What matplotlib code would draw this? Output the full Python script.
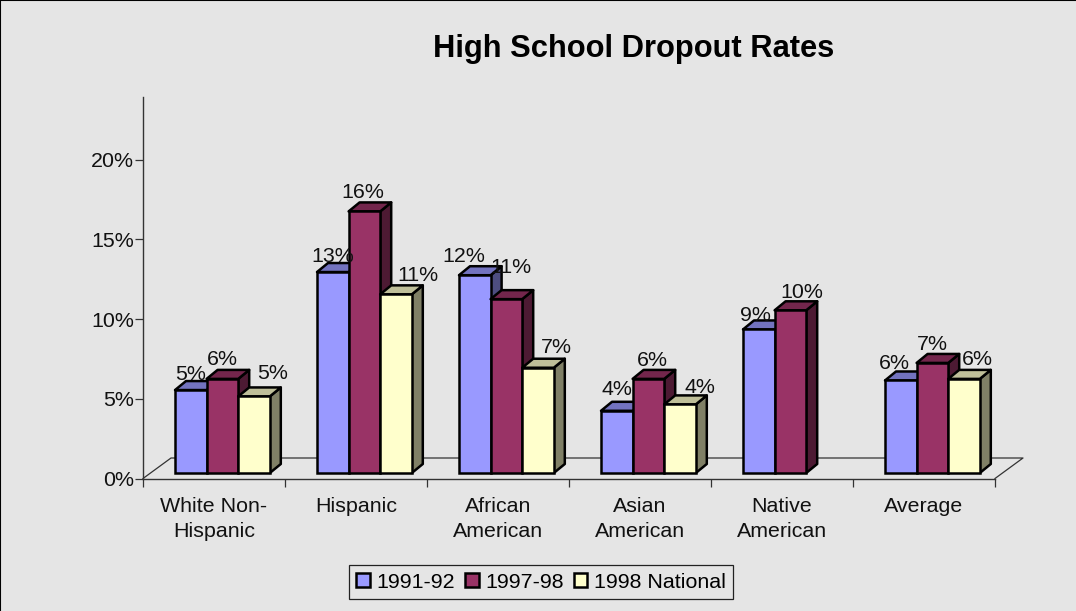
import matplotlib
matplotlib.use('Agg')
import matplotlib.pyplot as plt
from matplotlib.patches import Polygon, Patch
from matplotlib.lines import Line2D

plt.rcParams['font.family'] = ['Liberation Sans', 'DejaVu Sans']

# Dados
categorias = ['White Non-\nHispanic', 'Hispanic', 'African\nAmerican',
              'Asian\nAmerican', 'Native\nAmerican', 'Average']
series = ['1991-92', '1997-98', '1998 National']
v_1991 = [5.2, 12.6, 12.4, 3.9, 9.0, 5.8]
v_1997 = [5.9, 16.4, 10.9, 5.9, 10.2, 6.9]
v_1998 = [4.8, 11.2, 6.6, 4.3, None, 5.9]
yticks = [0, 5, 10, 15, 20]

# deslocamento dos rotulos em pixels (como no original, ajustados a mao)
desloc_1991 = [0, 0, -11, 0, -3, -6]
desloc_1997 = [0, -2, 5, 4, 11, 0]
desloc_1998 = [19, 22, 18, 20, 0, 13]
altura_1991 = [16, 16, 19, 21, 14, 17]
altura_1997 = [19, 19, 32, 18, 18, 18]
altura_1998 = [23, 19, 20, 17, 0, 19]

cores = ['#9999FF', '#993366', '#FFFFCC']
cores_topo = ['#7373BF', '#73264C', '#BFBF99']
cores_lado = ['#4D4D80', '#4D1A33', '#808066']
fundo = '#E5E5E5'
fonte = 15.4

W, H = 1076, 611
fig = plt.figure(figsize=(W / 100, H / 100), dpi=100, facecolor=fundo)

# eixo em pixels: x 143-995, y 478.5-97
px_y = 15.95  # pixels por ponto percentual
px_x = 142.0  # pixels por categoria
ax = fig.add_axes([143 / W, 1 - 478.5 / H, (995 - 143) / W, (478.5 - 97) / H])
ax.set_facecolor('none')
ax.set_xlim(0, 6)
ax.set_ylim(0, (478.5 - 97) / px_y)

for s in ['top', 'right']:
    ax.spines[s].set_visible(False)
for s in ['left', 'bottom']:
    ax.spines[s].set_color('#333333')
    ax.spines[s].set_linewidth(1.0)

ax.set_yticks(yticks)
ax.set_yticklabels([f'{t}%' for t in yticks], fontsize=fonte, color='#111111')
ax.tick_params(axis='y', length=5.8, width=0.9, color='#333333', pad=0.5)
ax.set_xticks(range(7))
ax.set_xticklabels([])
ax.set_xticks([i + 0.5 for i in range(6)], minor=True)
ax.set_xticklabels(categorias, minor=True, fontsize=fonte, color='#111111', linespacing=1.4)
ax.tick_params(axis='x', which='major', length=5.8, width=0.9, color='#333333')
ax.tick_params(axis='x', which='minor', length=0, pad=13)

# profundidade 3D
dx_px, dy_px = 11 / px_x, 9 / px_y
chao_x, chao_y = 28 / px_x, 20.5 / px_y
base = 5.5 / px_y
larg = 31.6 / px_x
inicio = 32 / px_x

# chao
ax.plot([0, chao_x, 6 + chao_x, 6], [0, chao_y, chao_y, 0], color='#333333', lw=0.9,
        clip_on=False, zorder=1)

todas = [v_1991, v_1997, v_1998]
desloc = [desloc_1991, desloc_1997, desloc_1998]
alturas = [altura_1991, altura_1997, altura_1998]
lw_barra = 1.8
z = 3
for g in range(len(categorias)):
    for i, valores in enumerate(todas):
        v = valores[g]
        if v is None:
            continue
        x0 = g + inicio + i * larg
        x1 = x0 + larg
        topo = v + base
        lado = Polygon([(x1, base), (x1 + dx_px, base + dy_px), (x1 + dx_px, topo + dy_px), (x1, topo)],
                       facecolor=cores_lado[i], edgecolor='black', lw=lw_barra, joinstyle='round', zorder=z, clip_on=False)
        cima = Polygon([(x0, topo), (x1, topo), (x1 + dx_px, topo + dy_px), (x0 + dx_px, topo + dy_px)],
                       facecolor=cores_topo[i], edgecolor='black', lw=lw_barra, joinstyle='round', zorder=z, clip_on=False)
        ax.add_patch(lado)
        ax.add_patch(cima)
        ax.bar(x0, v, width=larg, bottom=base, align='edge', color=cores[i], edgecolor='black',
               linewidth=lw_barra, zorder=z + 0.5, clip_on=False)
        ax.annotate(f'{v:.0f}%', (x0 + larg / 2, topo), xytext=(desloc[i][g] * 0.72, alturas[i][g] * 0.72),
                    textcoords='offset points', ha='center', va='center', fontsize=fonte,
                    color='#111111', zorder=50, annotation_clip=False)
        z += 1

fig.text(634 / W, 1 - 49.5 / H, 'High School Dropout Rates', ha='center', va='center',
         fontsize=22.2, fontweight='bold', color='black')

handles = [Patch(facecolor=c, edgecolor='black', linewidth=1.8) for c in cores]
leg = fig.legend(handles, series, loc='center', bbox_to_anchor=(541 / W, 1 - 582 / H), ncol=3,
                 fontsize=fonte, frameon=True, fancybox=False, edgecolor='#222222', facecolor=fundo,
                 framealpha=1, handlelength=0.62, handleheight=0.62, handletextpad=0.3,
                 columnspacing=0.5, borderpad=0.36, borderaxespad=0)
leg.get_frame().set_linewidth(0.9)

# borda so em cima e a esquerda
fig.add_artist(Line2D([0, 0, 1], [0, 1, 1], transform=fig.transFigure, color='black', lw=1.5))

fig.savefig('out.png', dpi=100, facecolor=fundo)
